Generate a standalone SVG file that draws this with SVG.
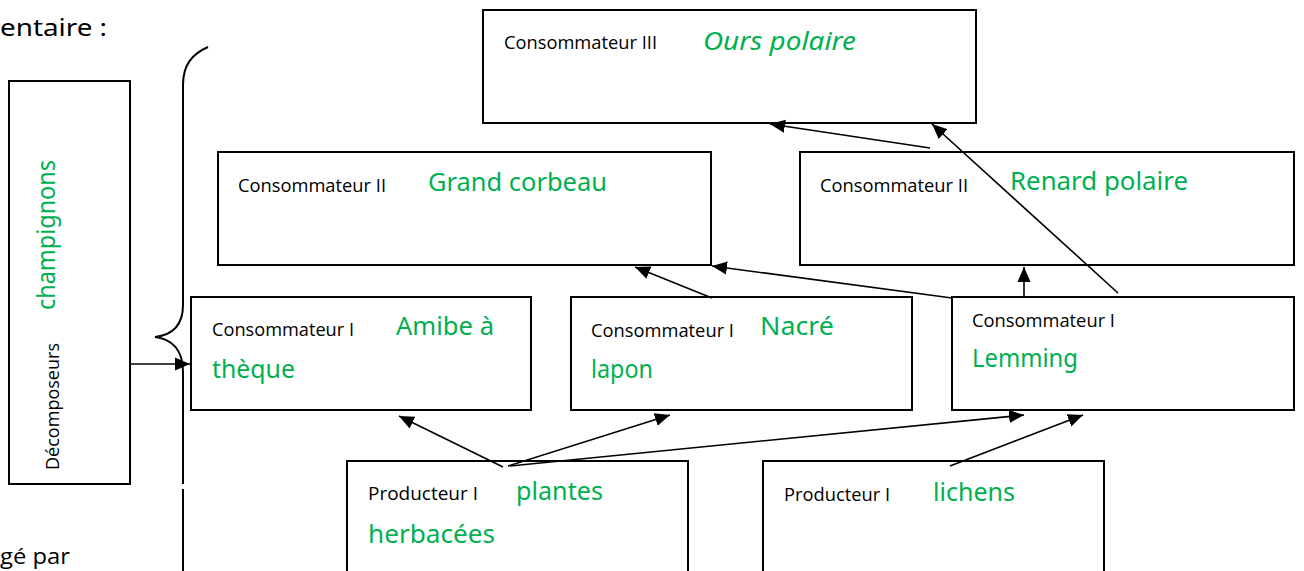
<svg xmlns="http://www.w3.org/2000/svg" width="1304" height="571" viewBox="0 0 1304 571">
<style>
.box{fill:#fff;stroke:#000;stroke-width:2}
.lbl{font-family:"Open Sans",Lato,"Liberation Sans",sans-serif;font-size:17.5px;fill:#000}
.sp{font-family:"Noto Sans","DejaVu Sans",sans-serif;font-size:25px;fill:#00B050}
.con{stroke:#000;stroke-width:1.6;fill:none;marker-end:url(#ah)}
.brace{stroke:#000;stroke-width:2;fill:none}
</style>
<defs>
<marker id="ah" markerUnits="userSpaceOnUse" markerWidth="16" markerHeight="14" refX="15" refY="7" orient="auto">
<path d="M0,0.5 L15,7 L0,13.5 z" fill="#000"/>
</marker>
</defs>
<rect width="1304" height="571" fill="#fff"/>
<text x="0" y="36" font-family="'Noto Sans','DejaVu Sans',sans-serif" font-size="24" fill="#000" textLength="107" lengthAdjust="spacingAndGlyphs">entaire :</text>
<text x="0" y="564" font-family="'Open Sans',Lato,sans-serif" font-size="21" fill="#000" textLength="70" lengthAdjust="spacingAndGlyphs">gé par</text>
<path class="brace" d="M208,47 C192,54 183,65 183,85 L183,305 C183,325 172,335 155,337 C172,339 183,350 183,372 L183,484 M183,489 L183,571"/>
<g id="n-decomp">
<rect class="box" x="9" y="81" width="121" height="403"/>
<text class="lbl" transform="translate(59,470) rotate(-90)" textLength="127" lengthAdjust="spacingAndGlyphs">Décomposeurs</text>
<text class="sp" transform="translate(55,310) rotate(-90)" font-size="25" textLength="150" lengthAdjust="spacingAndGlyphs">champignons</text>
</g>
<g id="n-ours">
<rect class="box" x="483" y="10" width="493" height="113"/>
<text class="lbl" x="504" y="49" textLength="153" lengthAdjust="spacingAndGlyphs">Consommateur III</text>
<text class="sp" x="703" y="50" font-style="italic" textLength="153" lengthAdjust="spacingAndGlyphs">Ours polaire</text>
</g>
<g id="n-corbeau">
<rect class="box" x="218" y="152" width="493" height="113"/>
<text class="lbl" x="238" y="192" textLength="148" lengthAdjust="spacingAndGlyphs">Consommateur II</text>
<text class="sp" x="428" y="191" textLength="179" lengthAdjust="spacingAndGlyphs">Grand corbeau</text>
</g>
<g id="n-renard">
<rect class="box" x="800" y="152" width="494" height="113"/>
<text class="lbl" x="820" y="192" textLength="148" lengthAdjust="spacingAndGlyphs">Consommateur II</text>
<text class="sp" x="1010" y="190" textLength="178" lengthAdjust="spacingAndGlyphs">Renard polaire</text>
</g>
<g id="n-amibe">
<rect class="box" x="191" y="297" width="340" height="113"/>
<text class="lbl" x="212" y="336" textLength="142" lengthAdjust="spacingAndGlyphs">Consommateur I</text>
<text class="sp" x="396" y="335" textLength="98" lengthAdjust="spacingAndGlyphs">Amibe à</text>
<text class="sp" x="212" y="378" textLength="83" lengthAdjust="spacingAndGlyphs">thèque</text>
</g>
<g id="n-nacre">
<rect class="box" x="571" y="297" width="341" height="113"/>
<text class="lbl" x="591" y="337" textLength="143" lengthAdjust="spacingAndGlyphs">Consommateur I</text>
<text class="sp" x="760" y="335" textLength="74" lengthAdjust="spacingAndGlyphs">Nacré</text>
<text class="sp" x="591" y="378" textLength="62" lengthAdjust="spacingAndGlyphs">lapon</text>
</g>
<g id="n-lemming">
<rect class="box" x="952" y="297" width="342" height="113"/>
<text class="lbl" x="972" y="327" textLength="143" lengthAdjust="spacingAndGlyphs">Consommateur I</text>
<text class="sp" x="972" y="367" textLength="106" lengthAdjust="spacingAndGlyphs">Lemming</text>
</g>
<g id="n-plantes">
<rect class="box" x="347" y="461" width="341" height="120"/>
<text class="lbl" x="368" y="500" textLength="110" lengthAdjust="spacingAndGlyphs">Producteur I</text>
<text class="sp" x="516" y="500" textLength="87" lengthAdjust="spacingAndGlyphs">plantes</text>
<text class="sp" x="368" y="543" textLength="127" lengthAdjust="spacingAndGlyphs">herbacées</text>
</g>
<g id="n-lichens">
<rect class="box" x="763" y="461" width="341" height="120"/>
<text class="lbl" x="784" y="501" textLength="106" lengthAdjust="spacingAndGlyphs">Producteur I</text>
<text class="sp" x="933" y="501" textLength="82" lengthAdjust="spacingAndGlyphs">lichens</text>
</g>
<g id="connectors">
<line class="con" x1="130" y1="364" x2="190" y2="364"/>
<line class="con" x1="503" y1="467" x2="399" y2="416"/>
<line class="con" x1="508" y1="466" x2="670" y2="415"/>
<line class="con" x1="510" y1="466" x2="1024" y2="415"/>
<line class="con" x1="950" y1="466" x2="1083" y2="415"/>
<line class="con" x1="712" y1="298" x2="635" y2="267"/>
<line class="con" x1="952" y1="298" x2="712" y2="266"/>
<line class="con" x1="1024" y1="298" x2="1024" y2="267"/>
<line class="con" x1="1118" y1="293" x2="932" y2="124"/>
<line class="con" x1="930" y1="148" x2="770" y2="124"/>
</g>
</svg>
